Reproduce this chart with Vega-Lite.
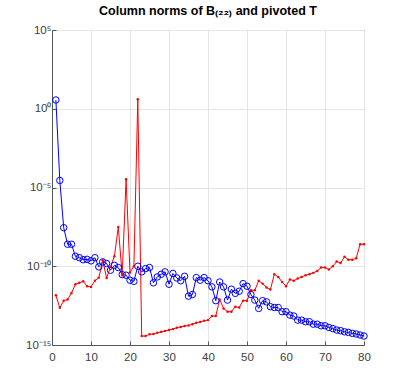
{
  "$schema": "https://vega.github.io/schema/vega-lite/v6.json",
  "width": 312,
  "height": 315,
  "autosize": "none",
  "padding": {"left": 52, "top": 30, "right": 38, "bottom": 43},
  "background": "white",
  "title": {
    "text": "Column norms of B₍₂₂₎ and pivoted T",
    "font": "Liberation Sans",
    "fontSize": 12.5,
    "fontWeight": "bold",
    "color": "#000000",
    "anchor": "middle",
    "offset": 7
  },
  "config": {
    "view": {"stroke": "#555555", "strokeWidth": 1},
    "axis": {
      "labelFont": "Liberation Sans",
      "labelFontSize": 11.5,
      "labelColor": "#404040",
      "labelFlush": false,
      "labelOverlap": false,
      "domainColor": "#555555",
      "tickColor": "#555555",
      "gridColor": "#e4e4e4",
      "gridWidth": 1,
      "gridOpacity": 1,
      "title": null
    }
  },
  "data": {
    "values": [
      {"x":1,"s":"T","v":3.6},{"x":2,"s":"T","v":2.8e-5},{"x":3,"s":"T","v":2.8e-8},{"x":4,"s":"T","v":2.5e-9},{"x":5,"s":"T","v":2.5e-9},
      {"x":6,"s":"T","v":4.3e-10},{"x":7,"s":"T","v":3.5e-10},{"x":8,"s":"T","v":2.6e-10},{"x":9,"s":"T","v":2.75e-10},{"x":10,"s":"T","v":2.2e-10},
      {"x":11,"s":"T","v":3.5e-10},{"x":12,"s":"T","v":9.1e-11},{"x":13,"s":"T","v":1.9e-10},{"x":14,"s":"T","v":1.5e-10},{"x":15,"s":"T","v":5.6e-11},
      {"x":16,"s":"T","v":1.15e-10},{"x":17,"s":"T","v":8.3e-11},{"x":18,"s":"T","v":2.95e-11},{"x":19,"s":"T","v":2.7e-11},{"x":20,"s":"T","v":1.3e-11},
      {"x":21,"s":"T","v":1.1e-11},{"x":22,"s":"T","v":1e-10},{"x":23,"s":"T","v":4.4e-11},{"x":24,"s":"T","v":7.1e-11},{"x":25,"s":"T","v":8.3e-11},
      {"x":26,"s":"T","v":8.9e-12},{"x":27,"s":"T","v":2.1e-11},{"x":28,"s":"T","v":3.1e-11},{"x":29,"s":"T","v":4.4e-11},{"x":30,"s":"T","v":7.2e-12},
      {"x":31,"s":"T","v":3.5e-11},{"x":32,"s":"T","v":1.8e-11},{"x":33,"s":"T","v":1.2e-11},{"x":34,"s":"T","v":2.3e-11},{"x":35,"s":"T","v":1.26e-12},
      {"x":36,"s":"T","v":1.6e-12},{"x":37,"s":"T","v":1.9e-11},{"x":38,"s":"T","v":1.3e-11},{"x":39,"s":"T","v":1.9e-11},{"x":40,"s":"T","v":1.2e-11},
      {"x":41,"s":"T","v":4.9e-12},{"x":42,"s":"T","v":6.5e-13},{"x":43,"s":"T","v":1.0e-11},{"x":44,"s":"T","v":4.9e-12},{"x":45,"s":"T","v":7.1e-13},
      {"x":46,"s":"T","v":3.5e-12},{"x":47,"s":"T","v":1.9e-12},{"x":48,"s":"T","v":2.6e-12},{"x":49,"s":"T","v":7.9e-12},{"x":50,"s":"T","v":5.4e-12},
      {"x":51,"s":"T","v":1.6e-12},{"x":52,"s":"T","v":7.1e-13},{"x":53,"s":"T","v":2.1e-13},{"x":54,"s":"T","v":6.5e-13},{"x":55,"s":"T","v":5.5e-13},
      {"x":56,"s":"T","v":2.7e-13},{"x":57,"s":"T","v":2.4e-13},{"x":58,"s":"T","v":2.4e-13},{"x":59,"s":"T","v":1.3e-13},{"x":60,"s":"T","v":1.3e-13},
      {"x":61,"s":"T","v":7.9e-14},{"x":62,"s":"T","v":6.9e-14},{"x":63,"s":"T","v":3.8e-14},{"x":64,"s":"T","v":3.8e-14},{"x":65,"s":"T","v":3.0e-14},
      {"x":66,"s":"T","v":3.0e-14},{"x":67,"s":"T","v":2.1e-14},{"x":68,"s":"T","v":2.1e-14},{"x":69,"s":"T","v":1.66e-14},{"x":70,"s":"T","v":1.66e-14},
      {"x":71,"s":"T","v":1.3e-14},{"x":72,"s":"T","v":1.1e-14},{"x":73,"s":"T","v":8.9e-15},{"x":74,"s":"T","v":8.1e-15},{"x":75,"s":"T","v":6.9e-15},
      {"x":76,"s":"T","v":6.3e-15},{"x":77,"s":"T","v":5.5e-15},{"x":78,"s":"T","v":5.0e-15},{"x":79,"s":"T","v":4.3e-15},{"x":80,"s":"T","v":3.7e-15},
      {"x":1,"s":"B","v":1.45e-12},{"x":2,"s":"B","v":2.3e-13},{"x":3,"s":"B","v":6.5e-13},{"x":4,"s":"B","v":7.8e-13},{"x":5,"s":"B","v":2.0e-12},
      {"x":6,"s":"B","v":7.2e-12},{"x":7,"s":"B","v":8.9e-12},{"x":8,"s":"B","v":1.1e-11},{"x":9,"s":"B","v":5.4e-12},{"x":10,"s":"B","v":4.9e-12},
      {"x":11,"s":"B","v":1.2e-11},{"x":12,"s":"B","v":1.9e-11},{"x":13,"s":"B","v":2.4e-10},{"x":14,"s":"B","v":1.8e-11},{"x":15,"s":"B","v":9.1e-11},
      {"x":16,"s":"B","v":4.3e-10},{"x":17,"s":"B","v":3.1e-8},{"x":18,"s":"B","v":2.7e-11},{"x":19,"s":"B","v":3.3e-5},{"x":20,"s":"B","v":4.0e-11},
      {"x":21,"s":"B","v":1.0e-10},{"x":22,"s":"B","v":4.0},{"x":23,"s":"B","v":3.7e-15},{"x":24,"s":"B","v":3.7e-15},{"x":25,"s":"B","v":4.8e-15},
      {"x":26,"s":"B","v":5.0e-15},{"x":27,"s":"B","v":6.0e-15},{"x":28,"s":"B","v":6.8e-15},{"x":29,"s":"B","v":7.8e-15},{"x":30,"s":"B","v":8.9e-15},
      {"x":31,"s":"B","v":1.02e-14},{"x":32,"s":"B","v":1.26e-14},{"x":33,"s":"B","v":1.4e-14},{"x":34,"s":"B","v":1.6e-14},{"x":35,"s":"B","v":1.74e-14},
      {"x":36,"s":"B","v":2.1e-14},{"x":37,"s":"B","v":2.6e-14},{"x":38,"s":"B","v":2.9e-14},{"x":39,"s":"B","v":3.5e-14},{"x":40,"s":"B","v":3.8e-14},
      {"x":41,"s":"B","v":6.9e-14},{"x":42,"s":"B","v":6.9e-14},{"x":43,"s":"B","v":7.8e-13},{"x":44,"s":"B","v":2.1e-13},{"x":45,"s":"B","v":1.3e-13},
      {"x":46,"s":"B","v":1.3e-13},{"x":47,"s":"B","v":2.7e-13},{"x":48,"s":"B","v":2.4e-13},{"x":49,"s":"B","v":6.5e-13},{"x":50,"s":"B","v":6.5e-13},
      {"x":51,"s":"B","v":3.0e-12},{"x":52,"s":"B","v":3.0e-12},{"x":53,"s":"B","v":1.2e-11},{"x":54,"s":"B","v":7.9e-12},{"x":55,"s":"B","v":4.5e-12},
      {"x":56,"s":"B","v":3.3e-12},{"x":57,"s":"B","v":3.1e-11},{"x":58,"s":"B","v":2.1e-11},{"x":59,"s":"B","v":1.0e-11},{"x":60,"s":"B","v":5.4e-12},
      {"x":61,"s":"B","v":1.45e-11},{"x":62,"s":"B","v":1.2e-11},{"x":63,"s":"B","v":1.66e-11},{"x":64,"s":"B","v":2.1e-11},{"x":65,"s":"B","v":2.7e-11},
      {"x":66,"s":"B","v":3.1e-11},{"x":67,"s":"B","v":3.8e-11},{"x":68,"s":"B","v":5.0e-11},{"x":69,"s":"B","v":8.3e-11},{"x":70,"s":"B","v":8.3e-11},
      {"x":71,"s":"B","v":6.2e-11},{"x":72,"s":"B","v":1.0e-10},{"x":73,"s":"B","v":2.0e-10},{"x":74,"s":"B","v":1.6e-10},{"x":75,"s":"B","v":4.0e-10},
      {"x":76,"s":"B","v":2.6e-10},{"x":77,"s":"B","v":2.6e-10},{"x":78,"s":"B","v":3.2e-10},{"x":79,"s":"B","v":2.5e-9},{"x":80,"s":"B","v":2.5e-9}
    ]
  },
  "encoding": {
    "x": {
      "field": "x", "type": "quantitative",
      "scale": {"domain": [0, 80], "nice": false},
      "axis": {"values": [0,10,20,30,40,50,60,70,80], "tickSize": -4, "labelPadding": 10, "grid": true}
    },
    "y": {
      "field": "v", "type": "quantitative",
      "scale": {"type": "log", "domain": [1e-15, 1e5], "nice": false},
      "axis": {
        "values": [1e-15, 1e-10, 1e-5, 1, 1e5],
        "tickSize": -4, "labelPadding": 5, "grid": true,
        "labelExpr": "datum.value >= 1e4 ? '10⁵' : datum.value >= 0.5 ? '10⁰' : datum.value >= 1e-6 ? '10⁻⁵' : datum.value >= 1e-11 ? '10⁻¹⁰' : '10⁻¹⁵'"
      }
    }
  },
  "layer": [
    {
      "mark": {"type": "line", "strokeWidth": 1},
      "encoding": {
        "color": {"field": "s", "type": "nominal", "scale": {"domain": ["T", "B"], "range": ["#0000ff", "#ff0000"]}, "legend": null}
      }
    },
    {
      "transform": [{"filter": "datum.s === 'T'"}],
      "mark": {"type": "point", "shape": "circle", "filled": false, "size": 42, "strokeWidth": 1, "color": "#0000ff", "opacity": 1}
    },
    {
      "transform": [{"filter": "datum.s === 'B'"}],
      "mark": {"type": "point", "shape": "circle", "filled": true, "size": 6, "color": "#ff0000", "opacity": 1}
    }
  ]
}
